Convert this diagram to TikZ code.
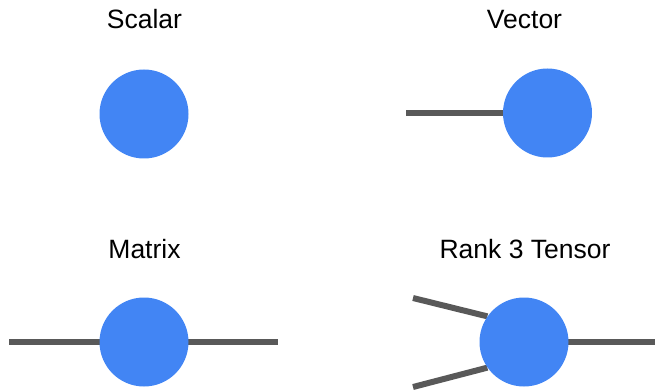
\documentclass[tikz,border=0pt]{standalone}
\usepackage{fontspec}
\setmainfont{Liberation Sans}
\usetikzlibrary{backgrounds}
\definecolor{tblue}{HTML}{4285F4}
\definecolor{leggray}{HTML}{595959}

\begin{document}
\begin{tikzpicture}[x=1pt,y=-1pt,
		tensor/.style={circle,fill=tblue,minimum size=89pt,inner sep=0pt},
		leg/.style={line width=6pt,color=leggray},
		title/.style={anchor=base,font=\fontsize{26.5}{30}\selectfont,inner sep=0pt}]
			%%%%% START %%%%%
			\useasboundingbox (0,0) rectangle (655,390);
			
			\node[title] (lscalar) at (144.5,29) {Scalar};
			\node[tensor] (scalar) at (144,114) {};
			
			\node[title] (lvector) at (524.5,29) {Vector};
			\node[tensor] (vector) at (547.5,113) {};
			\coordinate (v1) at (406,113);
			
			\node[title] (lmatrix) at (144.5,258) {Matrix};
			\node[tensor] (matrix) at (144,342) {};
			\coordinate (m1) at (9,342);
			\coordinate (m2) at (278,342);
			
			\node[title] (lrank) at (525,258) {Rank 3 Tensor};
			\node[tensor] (rank) at (524,342) {};
			\coordinate (r1) at (413,298);
			\coordinate (r2) at (413,387);
			\coordinate (r3) at (655,342);
			
			\begin{scope}[on background layer]
				\draw[leg] (v1) -- (vector.center);
				\draw[leg] (m1) -- (m2);
				\draw[leg] (r1) -- (rank.145);
				\draw[leg] (r2) -- (rank.215);
				\draw[leg] (rank.center) -- (r3);
			\end{scope}
			%%%%% END %%%%%
\end{tikzpicture}
\end{document}
